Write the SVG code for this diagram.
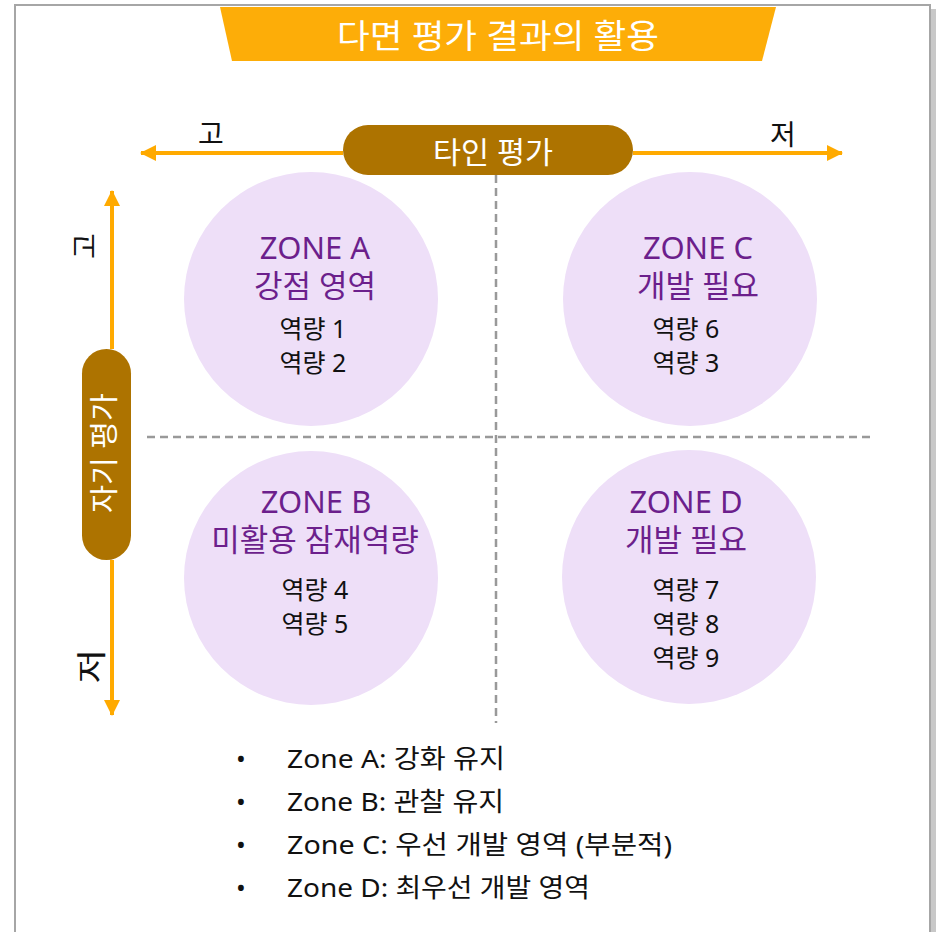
<svg xmlns="http://www.w3.org/2000/svg" width="941" height="932" viewBox="0 0 941 932">
<defs>
<style>
text{font-family:"Noto Sans","Noto Sans CJK KR",sans-serif;text-anchor:middle}
.zt{fill:#6C1F8C;font-size:31px}
.zi{fill:#111;font-size:25px}
.ax{stroke:#FFAA00;stroke-width:4;fill:none}
.dash{stroke:#999;stroke-width:2.5;stroke-dasharray:8 5;fill:none}
.circ{fill:#EEDFF8}
.pill{fill:#AD7300}
.lbl{fill:#111;font-size:28px}
.bul{fill:#111;font-size:26px;text-anchor:start}
</style>
<marker id="ah" viewBox="0 0 16 16" refX="15" refY="8" markerWidth="16" markerHeight="16" markerUnits="userSpaceOnUse" orient="auto">
<path d="M0,0 L16,8 L0,16 Z" fill="#FFAA00"/>
</marker>
</defs>
<rect width="941" height="932" fill="#fff"/>
<g id="frame">
<rect x="19" y="9" width="917" height="940" fill="#c8c8c8"/>
<rect x="15" y="5" width="915" height="940" fill="#fff" stroke="#a6a6a6" stroke-width="2"/>
</g>
<g id="title">
<polygon points="220,7 776,7 762,61 232,61" fill="#FDAD08"/>
<text x="498" y="48" fill="#fff" font-size="33" textLength="322" lengthAdjust="spacingAndGlyphs">다면 평가 결과의 활용</text>
</g>
<g id="connectors">
<line class="ax" x1="343" y1="153" x2="141" y2="153" marker-end="url(#ah)"/>
<line class="ax" x1="633" y1="153" x2="842" y2="153" marker-end="url(#ah)"/>
<line class="ax" x1="112" y1="349" x2="112" y2="191" marker-end="url(#ah)"/>
<line class="ax" x1="112" y1="560" x2="112" y2="715" marker-end="url(#ah)"/>
<line class="dash" x1="147" y1="437" x2="870" y2="437"/>
<line class="dash" x1="496" y1="175" x2="496" y2="723"/>
</g>
<g id="axis-other">
<rect class="pill" x="343" y="125" width="290" height="50" rx="25"/>
<text x="493" y="163" fill="#fff" font-size="30" textLength="120" lengthAdjust="spacingAndGlyphs">타인 평가</text>
<text class="lbl" x="211" y="144">고</text>
<text class="lbl" x="783" y="145">저</text>
</g>
<g id="axis-self">
<rect class="pill" x="82" y="349" width="49" height="211" rx="24.5"/>
<text transform="translate(115,453) rotate(-90)" fill="#fff" font-size="29" textLength="120" lengthAdjust="spacingAndGlyphs">자기 평가</text>
<text class="lbl" transform="translate(95,246) rotate(-90)">고</text>
<text class="lbl" transform="translate(102,666) rotate(-90) scale(1.35,1.05)">저</text>
</g>
<g id="zoneA">
<circle class="circ" cx="311" cy="299" r="127"/>
<text class="zt" x="315" y="259">ZONE A</text>
<text class="zt" x="315" y="297">강점 영역</text>
<text class="zi" x="313" y="338">역량 1</text>
<text class="zi" x="313" y="372">역량 2</text>
</g>
<g id="zoneC">
<circle class="circ" cx="690" cy="299" r="127"/>
<text class="zt" x="698" y="259">ZONE C</text>
<text class="zt" x="698" y="297">개발 필요</text>
<text class="zi" x="686" y="338">역량 6</text>
<text class="zi" x="686" y="372">역량 3</text>
</g>
<g id="zoneB">
<circle class="circ" cx="311" cy="578" r="127"/>
<text class="zt" x="316" y="513">ZONE B</text>
<text class="zt" x="315" y="551">미활용 잠재역량</text>
<text class="zi" x="315" y="599">역량 4</text>
<text class="zi" x="315" y="633">역량 5</text>
</g>
<g id="zoneD">
<circle class="circ" cx="689" cy="577" r="127"/>
<text class="zt" x="686" y="513">ZONE D</text>
<text class="zt" x="686" y="551">개발 필요</text>
<text class="zi" x="686" y="599">역량 7</text>
<text class="zi" x="686" y="633">역량 8</text>
<text class="zi" x="686" y="667">역량 9</text>
</g>
<g id="legend">
<text class="bul" x="236" y="768">•</text>
<text class="bul" x="287" y="768" textLength="218" lengthAdjust="spacingAndGlyphs">Zone A: 강화 유지</text>
<text class="bul" x="236" y="811">•</text>
<text class="bul" x="287" y="811" textLength="217" lengthAdjust="spacingAndGlyphs">Zone B: 관찰 유지</text>
<text class="bul" x="236" y="854">•</text>
<text class="bul" x="287" y="854" textLength="385" lengthAdjust="spacingAndGlyphs">Zone C: 우선 개발 영역 (부분적)</text>
<text class="bul" x="236" y="897">•</text>
<text class="bul" x="287" y="897" textLength="303" lengthAdjust="spacingAndGlyphs">Zone D: 최우선 개발 영역</text>
</g>
</svg>
